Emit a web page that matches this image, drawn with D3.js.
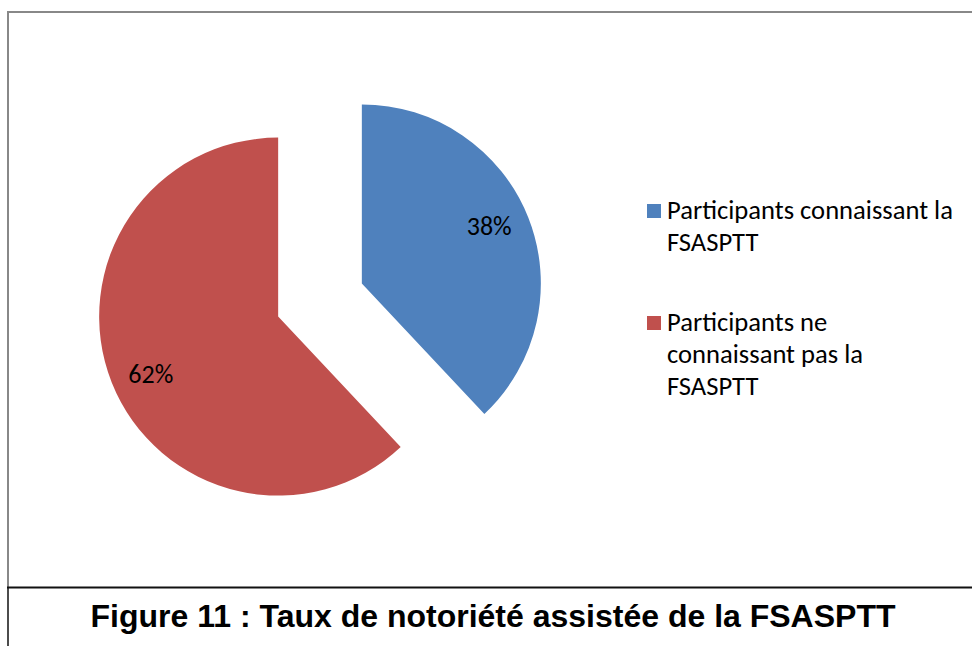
<!DOCTYPE html>
<html>
<head>
<meta charset="utf-8">
<script src="https://cdn.jsdelivr.net/npm/d3@7"></script>
<style>
  body { margin: 0; background: #fff; }
</style>
</head>
<body>
<script>
(function () {
	"use strict";

	const categories = ['Participants connaissant la FSASPTT', 'Participants ne connaissant pas la FSASPTT'];
	const values = [38, 62];
	const colors = ['#4F81BD', '#C0504D'];
	const legendLines = [
		['Participants connaissant la', 'FSASPTT'],
		['Participants ne', 'connaissant pas la', 'FSASPTT']
	];
	const caption = 'Figure 11 : Taux de notoriété assistée de la FSASPTT';

	let w = 972;
	let h = 646;

	let svg = d3.select('body').append('svg')
		.attr('width', w)
		.attr('height', h);

	// chart frame
	svg.append('path')
		.attr('d', 'M8,588 V12 H980')
		.attr('fill', 'none')
		.attr('stroke', '#888')
		.attr('stroke-width', 2);

	// caption box lines
	svg.append('line')
		.attr('x1', 7).attr('x2', w)
		.attr('y1', 587.5).attr('y2', 587.5)
		.attr('stroke', '#111').attr('stroke-width', 2);
	svg.append('line')
		.attr('x1', 8).attr('x2', 8)
		.attr('y1', 587).attr('y2', h)
		.attr('stroke', '#111').attr('stroke-width', 1.5);

	let cx = 320, cy = 300, r = 179, explode = 45;

	let pie = d3.pie().sort(null).value((d) => d);
	let arc = d3.arc().innerRadius(0).outerRadius(r);
	let arcs = pie(values);

	let g = svg.append('g').attr('transform', `translate(${cx},${cy})`);

	let slice = g.selectAll('g.slice')
		.data(arcs)
		.enter()
		.append('g')
		.attr('class', 'slice')
		.attr('transform', function (d) {
			let a = (d.startAngle + d.endAngle) / 2;
			return `translate(${Math.sin(a) * explode},${-Math.cos(a) * explode})`;
		});

	slice.append('path')
		.attr('d', arc)
		.attr('fill', (d, i) => colors[i]);

	// data labels, a little before the mid angle like Excel places them
	slice.append('text')
		.attr('x', function (d) {
			let a = (d.startAngle + d.endAngle) / 2 - 0.045;
			return Math.sin(a) * r * 0.78;
		})
		.attr('y', function (d) {
			let a = (d.startAngle + d.endAngle) / 2 - 0.045;
			return -Math.cos(a) * r * 0.78;
		})
		.attr('text-anchor', 'middle')
		.attr('dy', '0.35em')
		.style('font-family', 'Carlito, Lato, sans-serif')
		.style('font-size', '26px')
		.attr('fill', '#000')
		.text((d) => d.data + '%');

	// legend
	let legend = svg.append('g').attr('transform', 'translate(647,0)');
	let legendTop = [204, 316];

	let item = legend.selectAll('g.item')
		.data(categories)
		.enter()
		.append('g')
		.attr('class', 'item')
		.attr('transform', (d, i) => `translate(0,${legendTop[i]})`);

	item.append('rect')
		.attr('width', 14)
		.attr('height', 14)
		.attr('fill', (d, i) => colors[i]);

	item.append('text')
		.style('font-family', 'Carlito, Lato, sans-serif')
		.style('font-size', '26.6px')
		.attr('fill', '#000')
		.selectAll('tspan')
		.data((d, i) => legendLines[i])
		.enter()
		.append('tspan')
		.attr('x', 20)
		.attr('y', (d, j) => 15 + j * 32)
		.text((d) => d);

	svg.append('text')
		.attr('x', 493)
		.attr('y', 627)
		.attr('text-anchor', 'middle')
		.style('font-family', '"Liberation Sans", Arial, sans-serif')
		.style('font-weight', 'bold')
		.style('font-size', '32px')
		.text(caption);

})();
</script>
</body>
</html>
